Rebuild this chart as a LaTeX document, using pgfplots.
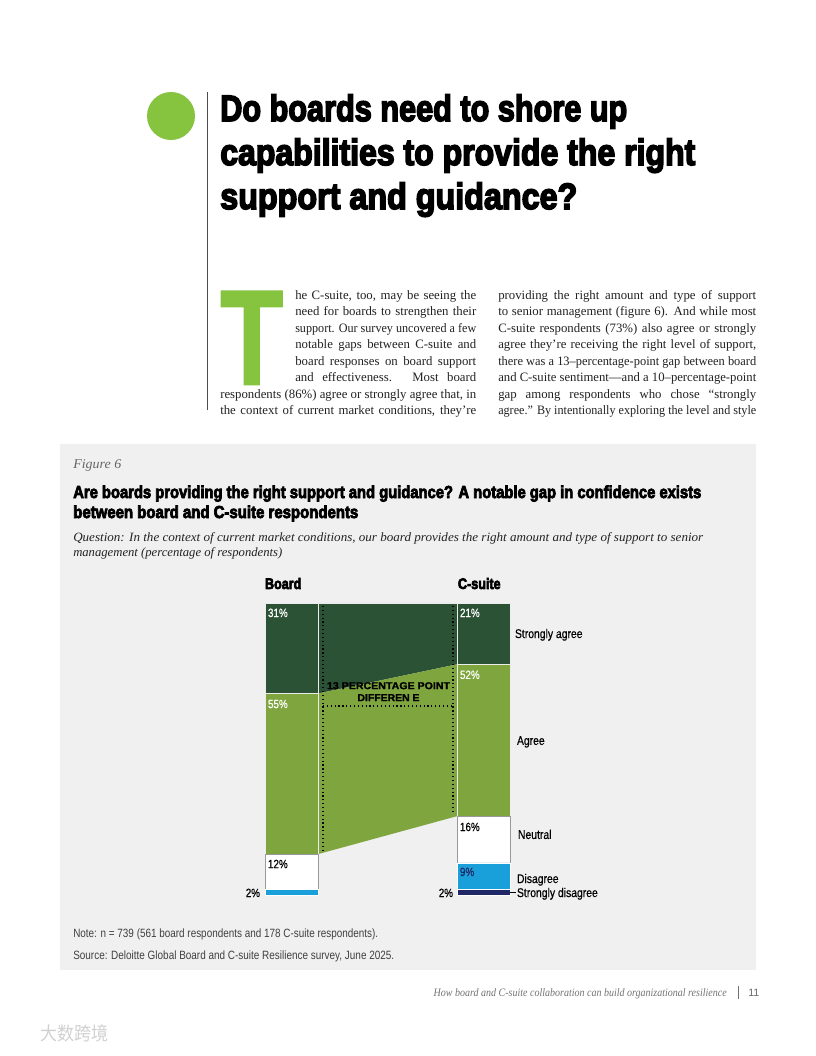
\documentclass[border=0pt]{standalone}
\usepackage{pgfplots}
\pgfplotsset{compat=1.18}
\usepackage{fontspec}
\usepackage{graphicx}
\setmainfont{Liberation Serif}
\newfontfamily\hsans{Liberation Sans}[BoldFeatures={FakeBold=4.5}]
\newfontfamily\msans{Liberation Sans}[BoldFeatures={FakeBold=1.5}]
\newfontfamily\lsans{Liberation Sans}
\newfontfamily\vsans{Liberation Sans}[FakeBold=0.6]
\newfontfamily\cjk{Noto Sans CJK SC}
\newlength\px \setlength\px{0.75pt}
\newcommand\fitw[2]{\resizebox{#1\px}{\height}{#2}}
\newcommand\cond[1]{\scalebox{0.82}[1]{#1}}
\newsavebox\lb
\newcommand\jline[2]{\sbox\lb{#2}\ifdim\wd\lb>#1\px\relax\resizebox{#1\px}{\height}{\usebox\lb}\else\makebox[#1\px][s]{#2}\fi}
\definecolor{darkg}{HTML}{2C5236}
\definecolor{midg}{HTML}{7FA63E}
\definecolor{lblue}{HTML}{199FDA}
\definecolor{navy}{HTML}{1F2766}
\definecolor{dropg}{HTML}{86C440}
\definecolor{boxg}{HTML}{F0F0F0}
\definecolor{bodyc}{HTML}{222222}
\newcommand\bl[4]{\node[anchor=base west,inner sep=0,text=bodyc] at (#1,#2) {\fontsize{9.6}{11}\selectfont\jline{#3}{#4}};}
\tikzset{lab/.style={inner sep=0pt, outer sep=0pt}}
\begin{document}
\begin{tikzpicture}[x=0.75pt,y=-0.75pt]
\fill[white] (0,0) rectangle (816,1056);
% heading
\fill[dropg] (171,116) circle[radius=18pt];
\draw[black!70, line width=0.75pt] (207,92) -- (207,410);
\node[anchor=base west,inner sep=0] at (220,121) {\fitw{407}{\fontsize{27.5}{30}\hsans\bfseries Do boards need to shore up}};
\node[anchor=base west,inner sep=0] at (220,165) {\fitw{475}{\fontsize{27.5}{30}\hsans\bfseries capabilities to provide the right}};
\node[anchor=base west,inner sep=0] at (220,209) {\fitw{357}{\fontsize{27.5}{30}\hsans\bfseries support and guidance?}};
% drop cap
\node[anchor=north west,inner sep=0,text=dropg] at (220,291) {\resizebox{63\px}{93\px}{\msans\bfseries T}};
% body column 1
\bl{295}{299}{181}{he C-suite, too, may be seeing the}
\bl{295}{315.5}{181}{need for boards to strengthen their}
\bl{295}{332}{181}{support. Our survey uncovered a few}
\bl{295}{348.5}{181}{notable gaps between C-suite and}
\bl{295}{365}{181}{board responses on board support}
\bl{295}{381.5}{181}{and effectiveness. Most board}
\bl{220}{398}{256}{respondents (86\%) agree or strongly agree that, in}
\bl{220}{414.5}{256}{the context of current market conditions, they’re}
% body column 2
\bl{498}{299}{258}{providing the right amount and type of support}
\bl{498}{315.5}{258}{to senior management (figure 6). And while most}
\bl{498}{332}{258}{C-suite respondents (73\%) also agree or strongly}
\bl{498}{348.5}{258}{agree they’re receiving the right level of support,}
\bl{498}{365}{258}{there was a 13–percentage-point gap between board}
\bl{498}{381.5}{258}{and C-suite sentiment—and a 10–percentage-point}
\bl{498}{398}{258}{gap among respondents who chose “strongly}
\bl{498}{414.5}{258}{agree.” By intentionally exploring the level and style}
% figure box
\fill[boxg] (60,444) rectangle (756,970);
\node[anchor=base west,inner sep=0,text=black!60] at (73,468) {\fitw{48}{\fontsize{10}{12}\selectfont\itshape Figure 6}};
\node[anchor=base west,inner sep=0] at (73,498) {\fitw{628}{\fontsize{13}{14}\hsans\bfseries Are boards providing the right support and guidance? A notable gap in confidence exists}};
\node[anchor=base west,inner sep=0] at (73,518) {\fitw{285}{\fontsize{13}{14}\hsans\bfseries between board and C-suite respondents}};
\node[anchor=base west,inner sep=0,text=bodyc] at (73,541) {\fitw{630}{\fontsize{9.5}{11}\selectfont\itshape Question: In the context of current market conditions, our board provides the right amount and type of support to senior}};
\node[anchor=base west,inner sep=0,text=bodyc] at (73,556) {\fitw{209}{\fontsize{9.5}{11}\selectfont\itshape management (percentage of respondents)}};
% chart
\begin{axis}[at={(198.75pt,-671.25pt)}, anchor=south west, scale only axis,
  width=183.75pt, height=219pt, xmin=265, xmax=510, ymin=0, ymax=100,
  axis lines=none, clip=false]
% connecting bands
\addplot[fill=darkg, draw=none] coordinates {(318,69) (318,100) (457,100) (457,79) (318,69)};
\addplot[fill=midg, draw=none] coordinates {(318,14) (318,69) (457,79) (457,27) (318,14)};
\addplot[white!85!gray, line width=0.8pt] coordinates {(318,100) (457,100)};
% board bar
\addplot[fill=darkg, draw=white!85!gray, line width=0.6pt] coordinates {(265,69) (318,69) (318,100) (265,100) (265,69)};
\addplot[fill=midg, draw=white!85!gray, line width=0.6pt] coordinates {(265,14) (318,14) (318,69) (265,69) (265,14)};
\addplot[fill=white, draw=black!40, line width=0.5pt] coordinates {(265,2) (318,2) (318,14) (265,14) (265,2)};
\addplot[fill=lblue, draw=white, line width=0.5pt] coordinates {(265,0) (318,0) (318,2) (265,2) (265,0)};
% c-suite bar
\addplot[fill=darkg, draw=white!85!gray, line width=0.6pt] coordinates {(457,79) (510,79) (510,100) (457,100) (457,79)};
\addplot[fill=midg, draw=white!85!gray, line width=0.6pt] coordinates {(457,27) (510,27) (510,79) (457,79) (457,27)};
\addplot[fill=white, draw=black!40, line width=0.5pt] coordinates {(457,11) (510,11) (510,27) (457,27) (457,11)};
\addplot[fill=lblue, draw=white, line width=0.5pt] coordinates {(457,2) (510,2) (510,11) (457,11) (457,2)};
\addplot[fill=navy, draw=white, line width=0.5pt] coordinates {(457,0) (510,0) (510,2) (457,2) (457,0)};
% annotation
\draw[black, dotted, line width=0.9pt] (axis cs:323,99) -- (axis cs:323,15.4);
\draw[black, dotted, line width=0.9pt] (axis cs:453,99) -- (axis cs:453,28.4);
\draw[black, dotted, line width=0.9pt] (axis cs:323,64.7) -- (axis cs:453,64.7);
\node[lab,anchor=base] at (axis cs:388.5,70.5) {\fitw{123}{\fontsize{7.5}{9}\msans\bfseries 13 PERCENTAGE POINT}};
\node[lab,anchor=base] at (axis cs:388.5,66.4) {\fitw{62}{\fontsize{7.5}{9}\msans\bfseries DIFFEREN E}};
% headers
\node[lab,anchor=base west] at (axis cs:265,104.8) {\cond{\fontsize{11.5}{13}\hsans\bfseries Board}};
\node[lab,anchor=base west] at (axis cs:458,104.8) {\cond{\fontsize{11.5}{13}\hsans\bfseries C-suite}};
% value labels
\node[lab,anchor=base west,text=white] at (axis cs:268,95.2) {\cond{\fontsize{9}{11}\vsans 31\%}};
\node[lab,anchor=base west,text=white] at (axis cs:268,64.0) {\cond{\fontsize{9}{11}\vsans 55\%}};
\node[lab,anchor=base west,text=black] at (axis cs:268,9.2) {\cond{\fontsize{9}{11}\vsans 12\%}};
\node[lab,anchor=base east,text=black] at (axis cs:260,-0.7) {\cond{\fontsize{9}{11}\vsans 2\%}};
\node[lab,anchor=base west,text=white] at (axis cs:460,95.2) {\cond{\fontsize{9}{11}\vsans 21\%}};
\node[lab,anchor=base west,text=white] at (axis cs:460,74.0) {\cond{\fontsize{9}{11}\vsans 52\%}};
\node[lab,anchor=base west,text=black] at (axis cs:460,21.9) {\cond{\fontsize{9}{11}\vsans 16\%}};
\node[lab,anchor=base west,text=navy] at (axis cs:460,6.5) {\cond{\fontsize{9}{11}\vsans 9\%}};
\node[lab,anchor=base east,text=black] at (axis cs:453,-0.7) {\cond{\fontsize{9}{11}\vsans 2\%}};
% category labels
\node[lab,anchor=base west] at (axis cs:515,88.0) {\cond{\fontsize{9.5}{11}\vsans Strongly agree}};
\node[lab,anchor=base west] at (axis cs:517,51.4) {\cond{\fontsize{9.5}{11}\vsans Agree}};
\node[lab,anchor=base west] at (axis cs:518,19.2) {\cond{\fontsize{9.5}{11}\vsans Neutral}};
\node[lab,anchor=base west] at (axis cs:517,4.1) {\cond{\fontsize{9.5}{11}\vsans Disagree}};
\node[lab,anchor=base west] at (axis cs:517,-0.7) {\cond{\fontsize{9.5}{11}\vsans Strongly disagree}};
\draw[black, line width=0.6pt] (axis cs:510,0.8) -- (axis cs:516,0.8);
\end{axis}
% notes
\node[anchor=base west,inner sep=0,text=black!75] at (73,937) {\fitw{305}{\fontsize{9}{11}\lsans Note: n = 739 (561 board respondents and 178 C-suite respondents).}};
\node[anchor=base west,inner sep=0,text=black!75] at (73,959) {\fitw{321}{\fontsize{9}{11}\lsans Source: Deloitte Global Board and C-suite Resilience survey, June 2025.}};
% footer
\node[anchor=base east,inner sep=0,text=black!55] at (727,996) {\fitw{293}{\fontsize{8.5}{10}\selectfont\itshape How board and C-suite collaboration can build organizational resilience}};
\draw[black!55, line width=0.6pt] (738,986) -- (738,999);
\node[anchor=base west,inner sep=0,text=black!60] at (748,996) {\fontsize{8}{10}\lsans 11};
% watermark
\node[anchor=base west,inner sep=0,text=black!18] at (40,1040) {\fitw{68}{\fontsize{14}{16}\cjk 大数跨境}};
\end{tikzpicture}
\end{document}
